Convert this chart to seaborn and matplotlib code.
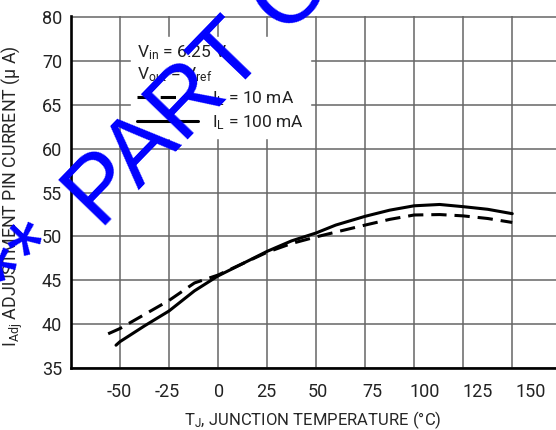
import matplotlib
matplotlib.use("Agg")
import matplotlib.pyplot as plt
import seaborn as sns
import pandas as pd

# ---- data ----
temp_100mA = [-52, -50, -37.5, -25, -12, 0, 25, 37.5, 50, 60, 75, 87.5, 100, 113, 125, 137.5, 150]
iadj_100mA = [37.6, 38.0, 39.8, 41.5, 43.8, 45.5, 48.3, 49.5, 50.4, 51.3, 52.3, 53.0, 53.5, 53.65, 53.4, 53.1, 52.6]

temp_10mA = [-56, -50, -37.5, -25, -12, 0, 25, 37.5, 50, 60, 75, 87.5, 100, 113, 125, 137.5, 150]
iadj_10mA = [38.9, 39.5, 41.1, 42.7, 44.7, 45.6, 48.2, 49.2, 49.95, 50.5, 51.3, 51.95, 52.45, 52.5, 52.35, 52.05, 51.6]

series_names = ["10 mA", "100 mA"]
legend_labels = [r"I$_{\rm L}$ = 10 mA", r"I$_{\rm L}$ = 100 mA"]

x_grid = [-75, -50, -25, 0, 25, 50, 75, 100, 125, 150]
x_tick_labels = ["-50", "-25", "0", "25", "50", "75", "100", "125", "150"]
x_tick_label_pos = [-50.4, -26.0, 0.5, 24.4, 50.9, 78.5, 105.5, 132.5, 159.5]
y_ticks = [35, 40, 45, 50, 55, 60, 65, 70, 75]
y_tick_labels = ["35", "40", "45", "50", "55", "60", "65", "70", "80"]

df = pd.concat([
    pd.DataFrame({"T": temp_10mA, "I": iadj_10mA, "load": series_names[0]}),
    pd.DataFrame({"T": temp_100mA, "I": iadj_100mA, "load": series_names[1]}),
], ignore_index=True)

sns.set_style("white")
FONT = ["Roboto", "Liberation Sans", "DejaVu Sans"]
plt.rcParams["font.family"] = FONT
plt.rcParams["mathtext.fontset"] = "custom"
plt.rcParams["mathtext.rm"] = "Roboto"
plt.rcParams["mathtext.it"] = "Roboto"
plt.rcParams["text.color"] = "#222222"

W, H = 556, 430
fig = plt.figure(figsize=(W / 100, H / 100), dpi=100)
left_px, bottom_px, top_px = 70.5, 368.0, 16.4
ax = fig.add_axes([left_px / W, 1 - bottom_px / H, 1 - left_px / W, (bottom_px - top_px) / H])

sns.lineplot(data=df, x="T", y="I", hue="load", style="load",
             hue_order=series_names, style_order=series_names,
             palette={series_names[0]: "black", series_names[1]: "black"},
             dashes={series_names[0]: (5.0, 2.6), series_names[1]: ""},
             estimator=None, sort=True, linewidth=2.2, ax=ax, zorder=3)

ax.set_xlim(-75.2, 172.3)
ax.set_ylim(35, 75.1)

# grid on minor ticks (true grid positions), labels on major ticks
ax.set_xticks(x_grid, minor=True)
ax.set_xticks(x_tick_label_pos)
ax.set_xticklabels(x_tick_labels)
ax.set_yticks(y_ticks)
ax.set_yticklabels(y_tick_labels)
ax.grid(False)
ax.grid(True, which="minor", axis="x", color="#666666", linewidth=1.1)
ax.grid(True, which="major", axis="y", color="#666666", linewidth=1.1)
ax.tick_params(axis="both", which="both", length=0, labelsize=13, labelcolor="#222222")
ax.tick_params(axis="x", pad=11)
ax.tick_params(axis="y", pad=6)

for s in ["top", "right"]:
    ax.spines[s].set_visible(False)
for s in ["left", "bottom"]:
    ax.spines[s].set_color("black")
    ax.spines[s].set_linewidth(1.9)
    ax.spines[s].set_zorder(4)

ax.set_xlabel(r"T$_{\rm J}$, JUNCTION TEMPERATURE (°C)", fontsize=12, labelpad=6)
ax.set_ylabel(r"I$_{\rm Adj}$ ADJUSTMENT PIN CURRENT (μ A)", fontsize=12.8, labelpad=6)
ax.yaxis.set_label_coords(-(left_px - 25) / (W - left_px), 0.49)

handles, labels = ax.get_legend_handles_labels()
hmap = dict(zip(labels, handles))
leg = ax.legend([hmap[n] for n in series_names], legend_labels,
                title="V$_{\\rm in}$ = 6.25 V\nV$_{\\rm out}$ = V$_{\\rm ref}$",
                alignment="left", loc="upper left",
                bbox_to_anchor=(0.125, 0.94), fontsize=12.5, title_fontsize=12.5,
                frameon=True, fancybox=False, framealpha=1, edgecolor="white",
                facecolor="white", borderpad=0.35, handlelength=3.5,
                handletextpad=0.8, labelspacing=0.3, borderaxespad=0)
leg.set_zorder(5)
for t in leg.get_texts():
    t.set_color("#222222")

# watermark
fig.text(100 / W, 1 - 230 / H, "PART OBSOLETE", rotation=46,
         rotation_mode="anchor", ha="left", va="baseline", fontsize=68,
         color="#0000ff", family=["Liberation Sans", "DejaVu Sans"], zorder=10)
fig.text(71 / W, 1 - 256 / H, "**", rotation=46,
         rotation_mode="anchor", ha="right", va="baseline", fontsize=68,
         color="#0000ff", family=["Liberation Sans", "DejaVu Sans"], zorder=10)

fig.savefig("out.png", dpi=100)
